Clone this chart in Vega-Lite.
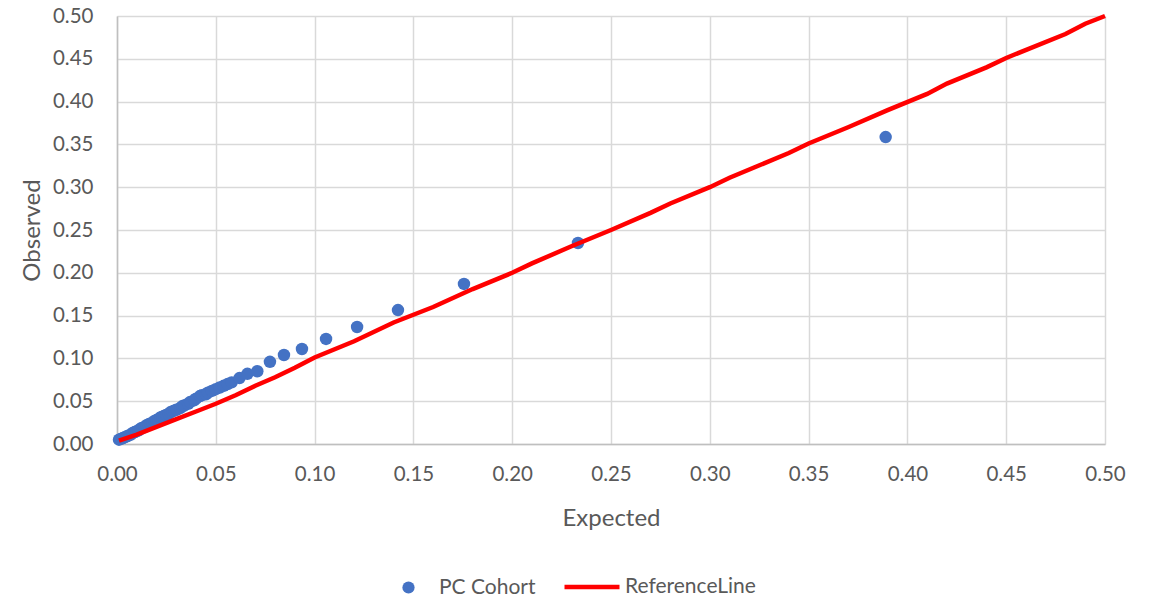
{
  "$schema": "https://vega.github.io/schema/vega-lite/v6.json",
  "width": 988,
  "height": 428,
  "autosize": {"type": "none"},
  "padding": {"left": 117, "top": 16, "right": 58, "bottom": 154},
  "background": "white",
  "config": {
    "view": {"stroke": null},
    "font": "Lato",
    "axis": {
      "labelFont": "Lato", "titleFont": "Lato",
      "labelColor": "#595959", "titleColor": "#595959",
      "labelFontSize": 20.5, "titleFontSize": 24, "titleFontWeight": "normal",
      "gridColor": "#d9d9d9", "gridWidth": 1.5,
      "ticks": false, "labelFlush": false, "labelOverlap": false
    },
    "legend": {"labelFont": "Lato", "labelFontSize": 21, "labelColor": "#595959"}
  },
  "datasets": {
    "obs": [
      {"expected": 0.001, "observed": 0.005, "series": "PC Cohort"},
      {"expected": 0.002, "observed": 0.006, "series": "PC Cohort"},
      {"expected": 0.003, "observed": 0.007, "series": "PC Cohort"},
      {"expected": 0.004, "observed": 0.008, "series": "PC Cohort"},
      {"expected": 0.005, "observed": 0.009, "series": "PC Cohort"},
      {"expected": 0.006, "observed": 0.010, "series": "PC Cohort"},
      {"expected": 0.007, "observed": 0.011, "series": "PC Cohort"},
      {"expected": 0.008, "observed": 0.013, "series": "PC Cohort"},
      {"expected": 0.009, "observed": 0.014, "series": "PC Cohort"},
      {"expected": 0.010, "observed": 0.015, "series": "PC Cohort"},
      {"expected": 0.011, "observed": 0.016, "series": "PC Cohort"},
      {"expected": 0.012, "observed": 0.018, "series": "PC Cohort"},
      {"expected": 0.013, "observed": 0.019, "series": "PC Cohort"},
      {"expected": 0.014, "observed": 0.020, "series": "PC Cohort"},
      {"expected": 0.015, "observed": 0.022, "series": "PC Cohort"},
      {"expected": 0.016, "observed": 0.023, "series": "PC Cohort"},
      {"expected": 0.017, "observed": 0.024, "series": "PC Cohort"},
      {"expected": 0.018, "observed": 0.025, "series": "PC Cohort"},
      {"expected": 0.019, "observed": 0.027, "series": "PC Cohort"},
      {"expected": 0.020, "observed": 0.028, "series": "PC Cohort"},
      {"expected": 0.021, "observed": 0.029, "series": "PC Cohort"},
      {"expected": 0.022, "observed": 0.031, "series": "PC Cohort"},
      {"expected": 0.023, "observed": 0.032, "series": "PC Cohort"},
      {"expected": 0.024, "observed": 0.033, "series": "PC Cohort"},
      {"expected": 0.025, "observed": 0.034, "series": "PC Cohort"},
      {"expected": 0.026, "observed": 0.035, "series": "PC Cohort"},
      {"expected": 0.027, "observed": 0.037, "series": "PC Cohort"},
      {"expected": 0.028, "observed": 0.038, "series": "PC Cohort"},
      {"expected": 0.029, "observed": 0.039, "series": "PC Cohort"},
      {"expected": 0.030, "observed": 0.040, "series": "PC Cohort"},
      {"expected": 0.032, "observed": 0.042, "series": "PC Cohort"},
      {"expected": 0.033, "observed": 0.044, "series": "PC Cohort"},
      {"expected": 0.034, "observed": 0.045, "series": "PC Cohort"},
      {"expected": 0.036, "observed": 0.047, "series": "PC Cohort"},
      {"expected": 0.037, "observed": 0.049, "series": "PC Cohort"},
      {"expected": 0.039, "observed": 0.051, "series": "PC Cohort"},
      {"expected": 0.040, "observed": 0.053, "series": "PC Cohort"},
      {"expected": 0.042, "observed": 0.056, "series": "PC Cohort"},
      {"expected": 0.043, "observed": 0.057, "series": "PC Cohort"},
      {"expected": 0.045, "observed": 0.058, "series": "PC Cohort"},
      {"expected": 0.046, "observed": 0.060, "series": "PC Cohort"},
      {"expected": 0.048, "observed": 0.062, "series": "PC Cohort"},
      {"expected": 0.050, "observed": 0.064, "series": "PC Cohort"},
      {"expected": 0.052, "observed": 0.066, "series": "PC Cohort"},
      {"expected": 0.054, "observed": 0.068, "series": "PC Cohort"},
      {"expected": 0.056, "observed": 0.070, "series": "PC Cohort"},
      {"expected": 0.058, "observed": 0.072, "series": "PC Cohort"},
      {"expected": 0.062, "observed": 0.077, "series": "PC Cohort"},
      {"expected": 0.066, "observed": 0.082, "series": "PC Cohort"},
      {"expected": 0.071, "observed": 0.085, "series": "PC Cohort"},
      {"expected": 0.0774, "observed": 0.096, "series": "PC Cohort"},
      {"expected": 0.0845, "observed": 0.104, "series": "PC Cohort"},
      {"expected": 0.0936, "observed": 0.111, "series": "PC Cohort"},
      {"expected": 0.1058, "observed": 0.1227, "series": "PC Cohort"},
      {"expected": 0.1215, "observed": 0.1367, "series": "PC Cohort"},
      {"expected": 0.1422, "observed": 0.1565, "series": "PC Cohort"},
      {"expected": 0.1756, "observed": 0.187, "series": "PC Cohort"},
      {"expected": 0.2333, "observed": 0.2348, "series": "PC Cohort"},
      {"expected": 0.389, "observed": 0.3586, "series": "PC Cohort"}
    ],
    "ref": [
      {"expected": 0.001, "observed": 0.004, "series": "ReferenceLine"},
      {"expected": 0.01, "observed": 0.011, "series": "ReferenceLine"},
      {"expected": 0.02, "observed": 0.02, "series": "ReferenceLine"},
      {"expected": 0.03, "observed": 0.029, "series": "ReferenceLine"},
      {"expected": 0.04, "observed": 0.038, "series": "ReferenceLine"},
      {"expected": 0.05, "observed": 0.047, "series": "ReferenceLine"},
      {"expected": 0.06, "observed": 0.057, "series": "ReferenceLine"},
      {"expected": 0.07, "observed": 0.068, "series": "ReferenceLine"},
      {"expected": 0.08, "observed": 0.078, "series": "ReferenceLine"},
      {"expected": 0.09, "observed": 0.089, "series": "ReferenceLine"},
      {"expected": 0.10, "observed": 0.101, "series": "ReferenceLine"},
      {"expected": 0.12, "observed": 0.12, "series": "ReferenceLine"},
      {"expected": 0.14, "observed": 0.142, "series": "ReferenceLine"},
      {"expected": 0.16, "observed": 0.16, "series": "ReferenceLine"},
      {"expected": 0.18, "observed": 0.181, "series": "ReferenceLine"},
      {"expected": 0.20, "observed": 0.20, "series": "ReferenceLine"},
      {"expected": 0.21, "observed": 0.211, "series": "ReferenceLine"},
      {"expected": 0.23, "observed": 0.231, "series": "ReferenceLine"},
      {"expected": 0.25, "observed": 0.25, "series": "ReferenceLine"},
      {"expected": 0.27, "observed": 0.27, "series": "ReferenceLine"},
      {"expected": 0.28, "observed": 0.281, "series": "ReferenceLine"},
      {"expected": 0.30, "observed": 0.30, "series": "ReferenceLine"},
      {"expected": 0.31, "observed": 0.311, "series": "ReferenceLine"},
      {"expected": 0.34, "observed": 0.34, "series": "ReferenceLine"},
      {"expected": 0.35, "observed": 0.351, "series": "ReferenceLine"},
      {"expected": 0.37, "observed": 0.37, "series": "ReferenceLine"},
      {"expected": 0.39, "observed": 0.39, "series": "ReferenceLine"},
      {"expected": 0.41, "observed": 0.409, "series": "ReferenceLine"},
      {"expected": 0.42, "observed": 0.421, "series": "ReferenceLine"},
      {"expected": 0.44, "observed": 0.44, "series": "ReferenceLine"},
      {"expected": 0.45, "observed": 0.451, "series": "ReferenceLine"},
      {"expected": 0.48, "observed": 0.479, "series": "ReferenceLine"},
      {"expected": 0.49, "observed": 0.491, "series": "ReferenceLine"},
      {"expected": 0.50, "observed": 0.50, "series": "ReferenceLine"}
    ]
  },
  "layer": [
    {
      "data": {"name": "obs"},
      "mark": {"type": "point", "filled": true, "opacity": 1, "size": 155},
      "encoding": {
        "x": {
          "field": "expected", "type": "quantitative",
          "scale": {"domain": [0, 0.5], "nice": false},
          "axis": {
            "title": "Expected", "format": ".2f", "values": [0,0.05,0.1,0.15,0.2,0.25,0.3,0.35,0.4,0.45,0.5],
            "labelPadding": 20, "titlePadding": 22,
            "domainColor": "#bfbfbf", "domainWidth": 1.5, "grid": true
          }
        },
        "y": {
          "field": "observed", "type": "quantitative",
          "scale": {"domain": [0, 0.5], "nice": false},
          "axis": {
            "title": "Observed", "format": ".2f", "values": [0,0.05,0.1,0.15,0.2,0.25,0.3,0.35,0.4,0.45,0.5],
            "labelPadding": 24, "titlePadding": 8,
            "domainColor": "#bfbfbf", "domainWidth": 1.5, "grid": true
          }
        },
        "color": {
          "field": "series", "type": "nominal",
          "scale": {"domain": ["PC Cohort"], "range": ["#4472C4"]},
          "legend": {
            "title": null, "orient": "none", "direction": "horizontal",
            "legendX": 281, "legendY": 561,
            "labelOffset": 20, "symbolSize": 150, "symbolStrokeWidth": 0
          }
        }
      }
    },
    {
      "data": {"name": "ref"},
      "mark": {"type": "line", "strokeWidth": 4.5, "clip": false},
      "encoding": {
        "x": {"field": "expected", "type": "quantitative"},
        "y": {"field": "observed", "type": "quantitative"},
        "stroke": {
          "field": "series", "type": "nominal",
          "scale": {"domain": ["ReferenceLine"], "range": ["#ff0000"]},
          "legend": {
            "title": null, "orient": "none", "direction": "horizontal",
            "legendX": 445, "legendY": 541,
            "labelOffset": 3, "symbolSize": 3025, "symbolStrokeWidth": 4.5, "symbolType": "stroke"
          }
        }
      }
    }
  ]
}
